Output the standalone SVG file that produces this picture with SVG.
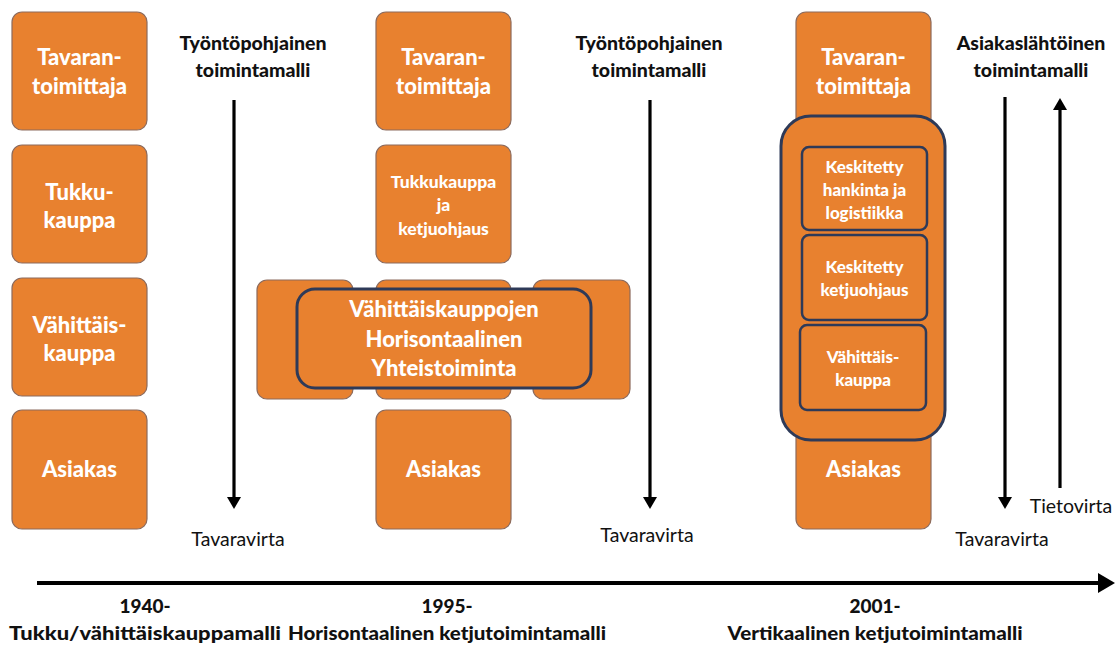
<svg xmlns="http://www.w3.org/2000/svg" width="1115" height="645" viewBox="0 0 1115 645">
<style>
.box{fill:#E8812F;stroke:#8C6A5C;stroke-width:1.2}
.grp{fill:#E8812F;stroke:#2E3A58;stroke-width:3}
.in{fill:#E8812F;stroke:#2E3A58;stroke-width:2.5}
.bt{font-family:Lato,"Open Sans","Liberation Sans",sans-serif;font-weight:900;fill:#fff;text-anchor:middle}
.t21{font-size:22px}
.t20{font-size:22px}
.t16{font-size:17.5px}
.t15{font-size:17px}
.hd{font-family:Lato,"Open Sans","Liberation Sans",sans-serif;font-weight:900;font-size:19.5px;fill:#111;text-anchor:middle}
.lb{font-family:Lato,"Open Sans","Liberation Sans",sans-serif;font-size:19.5px;fill:#111;text-anchor:middle}
.ft{font-family:Lato,"Open Sans","Liberation Sans",sans-serif;font-weight:900;font-size:19px;fill:#111;text-anchor:middle}
.ar{stroke:#000;stroke-width:3.2;fill:none}
</style>
<defs>
<marker id="ah" markerWidth="12" markerHeight="14" refX="6" refY="7" orient="auto" markerUnits="userSpaceOnUse" viewBox="0 0 12 14">
<path d="M0,0 L12,7 L0,14 z" fill="#000"/>
</marker>
</defs>
<rect width="1115" height="645" fill="#fff"/>

<!-- Column 1 -->
<g id="c1-tavarantoimittaja"><rect class="box" x="12" y="12" width="135" height="118" rx="10"/>
<text class="bt t21" x="79.5" y="65">Tavaran-</text><text class="bt t21" x="79.5" y="94">toimittaja</text></g>
<g id="c1-tukkukauppa"><rect class="box" x="12" y="145" width="135" height="118" rx="10"/>
<text class="bt t21" x="79.5" y="200">Tukku-</text><text class="bt t21" x="79.5" y="228">kauppa</text></g>
<g id="c1-vahittaiskauppa"><rect class="box" x="12" y="278" width="135" height="118" rx="10"/>
<text class="bt t21" x="79.5" y="333">Vähittäis-</text><text class="bt t21" x="79.5" y="361">kauppa</text></g>
<g id="c1-asiakas"><rect class="box" x="12" y="410" width="135" height="119" rx="10"/>
<text class="bt t21" x="79.5" y="477">Asiakas</text></g>
<g id="c1-title"><text class="hd" x="253" y="50">Työntöpohjainen</text><text class="hd" x="253" y="77">toimintamalli</text></g>
<g id="c1-label"><text class="lb" x="238" y="546">Tavaravirta</text></g>

<!-- Column 2 -->
<g id="c2-tavarantoimittaja"><rect class="box" x="376" y="12" width="135" height="118" rx="10"/>
<text class="bt t21" x="443.5" y="65">Tavaran-</text><text class="bt t21" x="443.5" y="94">toimittaja</text></g>
<g id="c2-tukkukauppa"><rect class="box" x="376" y="145" width="135" height="118" rx="10"/>
<text class="bt t16" x="443.5" y="188">Tukkukauppa</text><text class="bt t16" x="443.5" y="211">ja</text><text class="bt t16" x="443.5" y="235">ketjuohjaus</text></g>
<g id="c2-left"><rect class="box" x="257" y="280" width="96" height="119" rx="10"/></g>
<g id="c2-mid"><rect class="box" x="376" y="280" width="135" height="119" rx="10"/></g>
<g id="c2-right"><rect class="box" x="533" y="280" width="97" height="119" rx="10"/></g>
<g id="c2-yhteistoiminta"><rect class="grp" x="297" y="289" width="294" height="99" rx="18"/>
<text class="bt t20" x="444" y="317">Vähittäiskauppojen</text><text class="bt t20" x="444" y="347">Horisontaalinen</text><text class="bt t20" x="444" y="376">Yhteistoiminta</text></g>
<g id="c2-asiakas"><rect class="box" x="376" y="410" width="135" height="119" rx="10"/>
<text class="bt t21" x="443.5" y="477">Asiakas</text></g>
<g id="c2-title"><text class="hd" x="649" y="50">Työntöpohjainen</text><text class="hd" x="649" y="77">toimintamalli</text></g>
<g id="c2-label"><text class="lb" x="647" y="542">Tavaravirta</text></g>

<!-- Column 3 -->
<g id="c3-column"><rect class="box" x="796" y="12" width="135" height="517" rx="10"/>
<text class="bt t21" x="863.5" y="65">Tavaran-</text><text class="bt t21" x="863.5" y="94">toimittaja</text>
<text class="bt t21" x="863.5" y="477">Asiakas</text></g>
<g id="c3-group"><rect class="grp" x="781" y="116" width="164" height="324" rx="30"/></g>
<g id="c3-hankinta"><rect class="in" x="802" y="147" width="125" height="83" rx="7"/>
<text class="bt t15" x="864.5" y="173">Keskitetty</text><text class="bt t15" x="864.5" y="196">hankinta ja</text><text class="bt t15" x="864.5" y="219">logistiikka</text></g>
<g id="c3-ketjuohjaus"><rect class="in" x="802" y="235" width="125" height="85" rx="7"/>
<text class="bt t15" x="864.5" y="273">Keskitetty</text><text class="bt t15" x="864.5" y="296">ketjuohjaus</text></g>
<g id="c3-vahittaiskauppa"><rect class="in" x="800" y="325" width="126" height="85" rx="7"/>
<text class="bt t15" x="863" y="363">Vähittäis-</text><text class="bt t15" x="863" y="386">kauppa</text></g>
<g id="c3-title"><text class="hd" x="1031" y="50">Asiakaslähtöinen</text><text class="hd" x="1031" y="77">toimintamalli</text></g>
<g id="c3-labels"><text class="lb" x="1002" y="546">Tavaravirta</text><text class="lb" x="1071" y="513">Tietovirta</text></g>

<!-- Bottom labels -->
<g id="era-1940"><text class="ft" x="145" y="613">1940-</text><text class="ft" x="145" y="640" textLength="272" lengthAdjust="spacingAndGlyphs">Tukku/vähittäiskauppamalli</text></g>
<g id="era-1995"><text class="ft" x="447" y="613">1995-</text><text class="ft" x="447" y="640" textLength="318" lengthAdjust="spacingAndGlyphs">Horisontaalinen ketjutoimintamalli</text></g>
<g id="era-2001"><text class="ft" x="875" y="613">2001-</text><text class="ft" x="875" y="640" textLength="295" lengthAdjust="spacingAndGlyphs">Vertikaalinen ketjutoimintamalli</text></g>

<!-- Connectors -->
<g id="connectors">
<line class="ar" x1="234" y1="100" x2="234" y2="503" marker-end="url(#ah)"/>
<line class="ar" x1="650" y1="100" x2="650" y2="503" marker-end="url(#ah)"/>
<line class="ar" x1="1005" y1="97" x2="1005" y2="503" marker-end="url(#ah)"/>
<line class="ar" x1="1060" y1="488" x2="1060" y2="104" marker-end="url(#ah)"/>
<line x1="37" y1="583" x2="1102" y2="583" stroke="#000" stroke-width="4"/>
<path d="M1098,573 L1115,583 L1098,593 z" fill="#000"/>
</g>
</svg>
